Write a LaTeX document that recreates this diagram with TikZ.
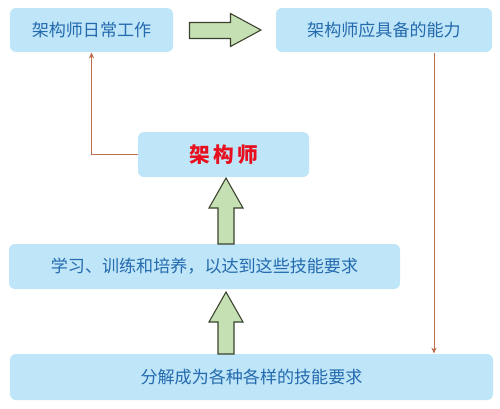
\documentclass[tikz,border=0pt]{standalone}
\usepackage{fontspec}
\usetikzlibrary{arrows.meta}
\newfontfamily\cjk{Noto Sans CJK SC}
\newfontfamily\cjkwide[LetterSpace=16]{Noto Sans CJK SC}

\definecolor{boxfill}{RGB}{190,229,248}
\definecolor{boxtext}{RGB}{36,106,174}
\definecolor{archred}{RGB}{232,16,30}
\definecolor{arrowfill}{RGB}{197,224,178}
\definecolor{arrowdraw}{RGB}{58,66,46}
\definecolor{linkline}{RGB}{190,110,78}

\tikzset{every picture/.style={line width=0.75pt}}
\tikzset{
  stepbox/.style={fill=boxfill, draw=none, rounded corners=4.5pt, inner sep=0pt,
    minimum height=33pt, text=boxtext, font=\cjk\fontsize{12.8}{15}\selectfont},
  link/.style={draw=linkline, line width=0.65pt, -{Stealth[length=4.5pt,width=4pt]}},
  bigarrow/.style={fill=arrowfill, draw=arrowdraw, line width=0.8pt, line join=miter}
}

\begin{document}
\begin{tikzpicture}[x=0.75pt,y=0.75pt,yscale=-1,xscale=1]
\useasboundingbox (0,0) rectangle (500,408);

% Text Node
\node [stepbox, minimum width=122.25pt] (daily) at (91.5,30) {架构师日常工作};
% Text Node
\node [stepbox, minimum width=162pt] (ability) at (384,30) {架构师应具备的能力};
% Text Node
\node [stepbox, minimum width=128.25pt, minimum height=33.75pt, text=archred,
  font=\cjkwide\bfseries\fontsize{15.5}{18}\selectfont] (arch) at (223.5,154.5) {架构师};
% Text Node
\node [stepbox, minimum width=293.25pt, minimum height=33.75pt] (train) at (204.5,266.5) {学习、训练和培养，以达到这些技能要求};
% Text Node
\node [stepbox, minimum width=362.25pt, minimum height=34.5pt] (skills) at (251.5,377) {分解成为各种各样的技能要求};

%Shape: Right Arrow
\draw [bigarrow] (189.5,22.5) -- (230.5,22.5) -- (230.5,13.5) -- (261,30) -- (230.5,46.5) -- (230.5,38.5) -- (189.5,38.5) -- cycle ;
%Shape: Up Arrow
\draw [bigarrow] (218,244) -- (218,208) -- (209,208) -- (226,178) -- (243,208) -- (234,208) -- (234,244) -- cycle ;
%Shape: Up Arrow
\draw [bigarrow] (218,354) -- (218,322) -- (209,322) -- (226,292) -- (243,322) -- (234,322) -- (234,354) -- cycle ;

%Straight Lines
\draw [link] (arch.west) -| (daily.south) ;
%Straight Lines
\draw [link] ([xshift=37.5pt]ability.south) -- ([xshift=37.5pt]ability.south |- skills.north) ;

\end{tikzpicture}
\end{document}
